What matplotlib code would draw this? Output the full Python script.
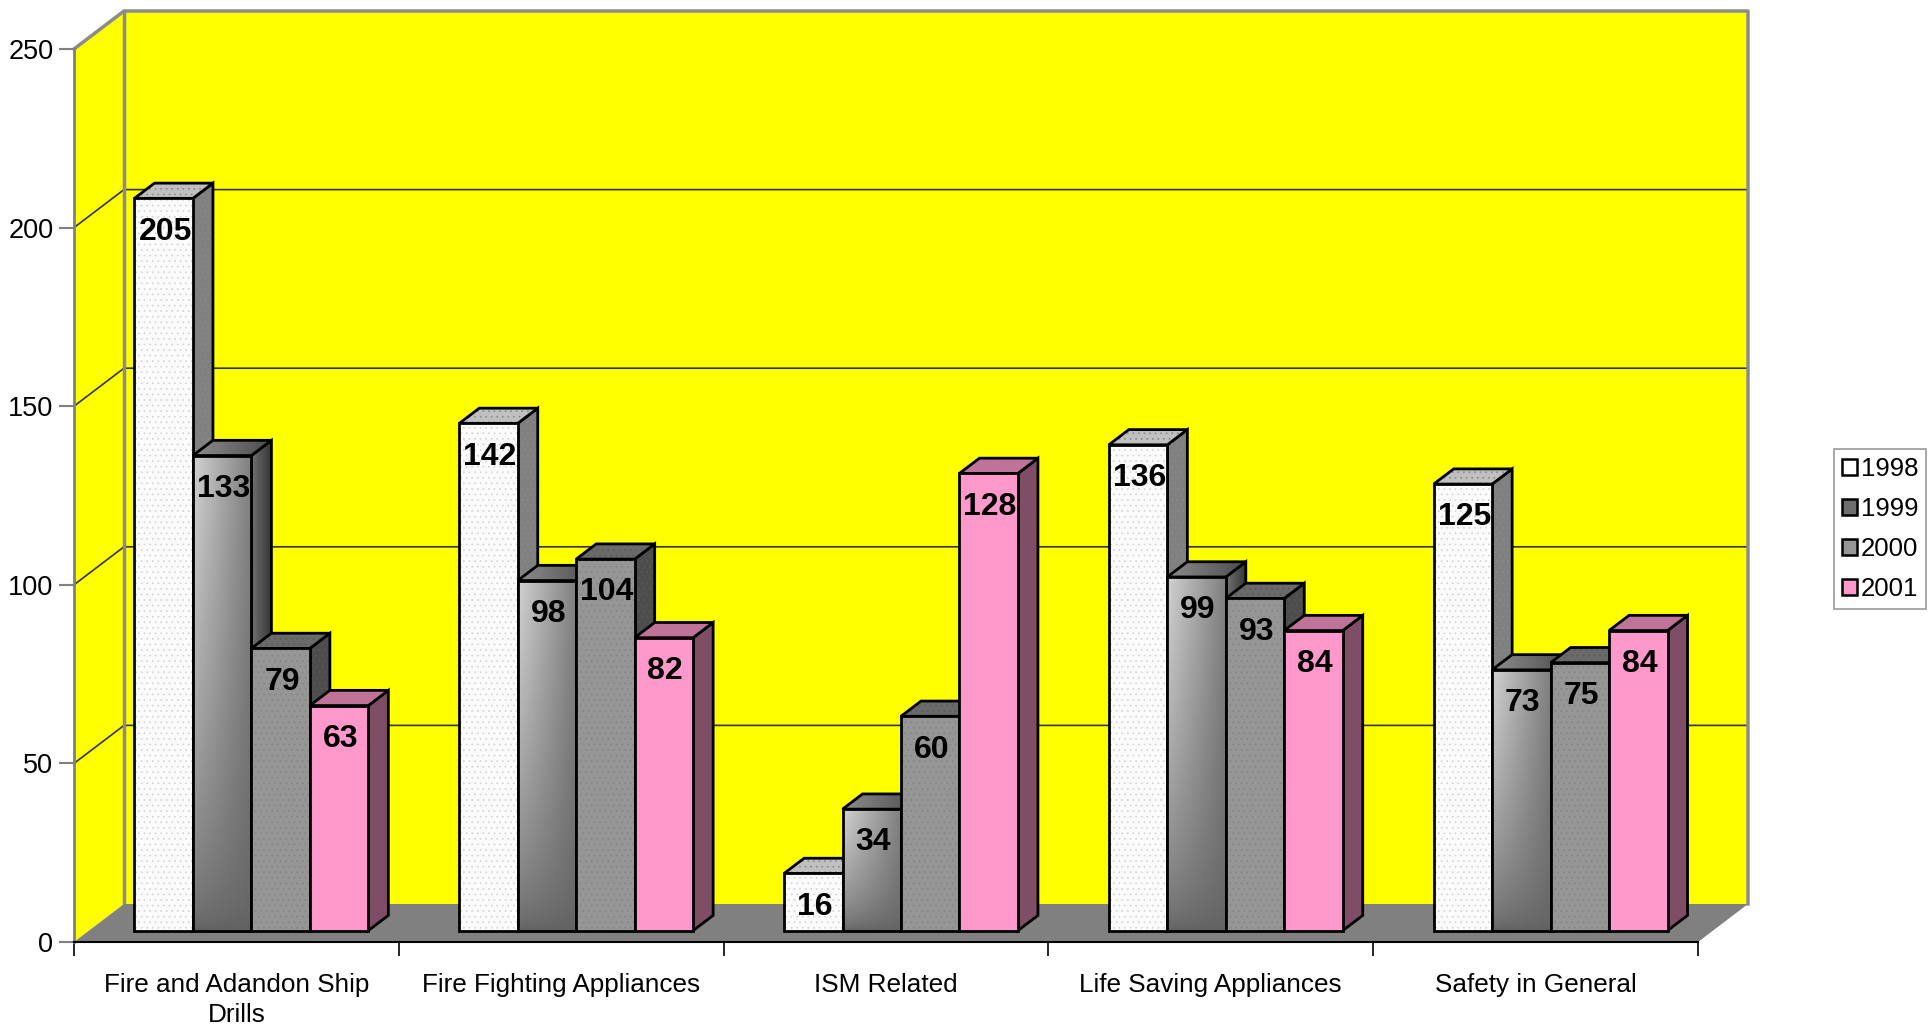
import numpy as np
import matplotlib.pyplot as plt
from matplotlib.patches import Polygon, Patch

plt.rcParams['font.family'] = ['Liberation Sans', 'DejaVu Sans']
plt.rcParams['hatch.linewidth'] = 0.5

# data
categories = ['Fire and Adandon Ship\nDrills', 'Fire Fighting Appliances', 'ISM Related',
              'Life Saving Appliances', 'Safety in General']
years = ['1998', '1999', '2000', '2001']
v1998 = [205, 142, 16, 136, 125]
v1999 = [133, 98, 34, 99, 73]
v2000 = [79, 104, 60, 93, 75]
v2001 = [63, 82, 128, 84, 84]
values = [v1998, v1999, v2000, v2001]

# face colours (front / top / side), 1999 gets a gradient instead
front_cols = ['#fbfbfb', '#808080', '#969696', '#ff99cc']
top_cols = ['#c0c0c0', '#707070', '#6a6a6a', '#c07399']
side_cols = ['#808080', '#505050', '#4d4d4d', '#804d66']
dot_cols = ['#d4d4d4', None, '#858585', None]

fig = plt.figure(figsize=(19.33, 10.31), dpi=100)
ax = fig.add_axes([74/1933, 89/1031, 1624/1933, 893/1031])
ax.patch.set_visible(False)

n = len(categories)
ymax = 250
DX, DY = 0.154, 10.64   # depth of the floor in data units
bw = 0.18
d0, d1 = 0.3, 0.7       # bars sit between these depth fractions

# walls and floor
ax.add_patch(Polygon([(DX, DY), (n+DX, DY), (n+DX, ymax+DY), (DX, ymax+DY)],
                     fc='#ffff00', ec='none', clip_on=False, zorder=0))
ax.add_patch(Polygon([(0, 0), (DX, DY), (DX, ymax+DY), (0, ymax)],
                     fc='#ffff00', ec='none', clip_on=False, zorder=0))
ax.add_patch(Polygon([(0, 0), (n, 0), (n+DX, DY), (DX, DY)],
                     fc='#808080', ec='none', clip_on=False, zorder=0.5))
for g in [50, 100, 150, 200]:
    ax.plot([0, DX, n+DX], [g, g+DY, g+DY], color='#333333', lw=1.2,
            clip_on=False, zorder=0.3)
ax.plot([0, DX, n+DX, n+DX], [ymax, ymax+DY, ymax+DY, DY], color='#8c8c8c',
        lw=2.5, clip_on=False, zorder=0.4)
ax.plot([DX, DX], [DY, ymax+DY], color='#8c8c8c', lw=2.5, clip_on=False, zorder=0.4)

# 1999 gradients
gx = np.linspace(0, 1, 64)
gy = np.linspace(0, 1, 128)
GX, GY = np.meshgrid(gx, gy)
front_grad = 0.38 + ((0.82 - 0.32*GX) - 0.38) * GY**0.6
side_grad = 0.45 - 0.25*GX + 0*GY
top_grad = 0.55 - 0.25*GX + 0*GY


def face(pts, fc, z, dots=None):
    ax.add_patch(Polygon(pts, fc=fc, ec='none', zorder=z))
    if dots:
        ax.add_patch(Polygon(pts, fc='none', ec=dots, lw=0, hatch='...', zorder=z+0.001))
    ax.add_patch(Polygon(pts, fc='none', ec='black', lw=2, zorder=z+0.002))


def grad_face(pts, arr, z):
    p = Polygon(pts, fc='none', ec='black', lw=2, zorder=z+0.002)
    ax.add_patch(p)
    xs = [q[0] for q in pts]
    ys = [q[1] for q in pts]
    im = ax.imshow(arr, extent=[min(xs), max(xs), min(ys), max(ys)], origin='lower',
                   cmap='gray', vmin=0, vmax=1, aspect='auto', zorder=z)
    im.set_clip_path(p)


ddx, ddy = (d1-d0)*DX, (d1-d0)*DY
for s, vals in enumerate(values):
    for i, v in enumerate(vals):
        x0 = i + 0.5 - 2*bw + s*bw + d0*DX
        x1 = x0 + bw
        yb = d0*DY
        yt = yb + v
        z = 3 + (i*4 + s)*0.1
        front = [(x0, yb), (x1, yb), (x1, yt), (x0, yt)]
        top = [(x0, yt), (x1, yt), (x1+ddx, yt+ddy), (x0+ddx, yt+ddy)]
        side = [(x1, yb), (x1+ddx, yb+ddy), (x1+ddx, yt+ddy), (x1, yt)]
        if s == 1:
            grad_face(side, side_grad, z+0.01)
            grad_face(top, top_grad, z+0.02)
            grad_face(front, front_grad, z+0.03)
        else:
            dark = '#8a8a8a' if s == 0 else ('#5a5a5a' if s == 2 else None)
            face(side, side_cols[s], z+0.01, dark)
            face(top, top_cols[s], z+0.02, dark)
            face(front, front_cols[s], z+0.03, dot_cols[s])
        ax.annotate(str(v), xy=((x0+x1)/2, yt), xytext=(1, -24), textcoords='offset points',
                    ha='center', va='center', fontsize=23, fontweight='bold', zorder=z+0.08)

ax.set_xlim(0, n)
ax.set_ylim(0, ymax)

# axes
for side_ in ['top', 'right']:
    ax.spines[side_].set_visible(False)
ax.spines['left'].set_color('#808080')
ax.spines['left'].set_linewidth(2)
ax.spines['bottom'].set_color('black')
ax.spines['bottom'].set_linewidth(1.5)
ax.set_yticks(np.arange(0, 251, 50))
ax.tick_params(axis='y', length=10.8, width=1.5, color='#808080', pad=4, labelsize=19.5)
ax.set_xticks(np.arange(n+1))
ax.set_xticklabels([])
ax.tick_params(axis='x', which='major', length=10, width=1.2, color='black')
ax.set_xticks(np.arange(n)+0.5, minor=True)
ax.set_xticklabels(categories, minor=True)
ax.tick_params(axis='x', which='minor', length=0, pad=22, labelsize=18.8)
for lbl in ax.get_xticklabels(minor=True):
    lbl.set_linespacing(1.35)

# legend
handles = [Patch(fc=c, ec='black', lw=1.8) for c in ['#ffffff', '#6e6e6e', '#969696', '#ff99cc']]
leg = fig.legend(handles, years, loc='center left', bbox_to_anchor=(1834/1933, 1-529/1031),
                 frameon=True, fancybox=False, edgecolor='#808080', fontsize=18.5,
                 handlelength=0.6, handleheight=0.6, handletextpad=0.15, labelspacing=0.62,
                 borderpad=0.3, borderaxespad=0)
leg.get_frame().set_linewidth(1.2)

plt.savefig('out.png', dpi=100)
